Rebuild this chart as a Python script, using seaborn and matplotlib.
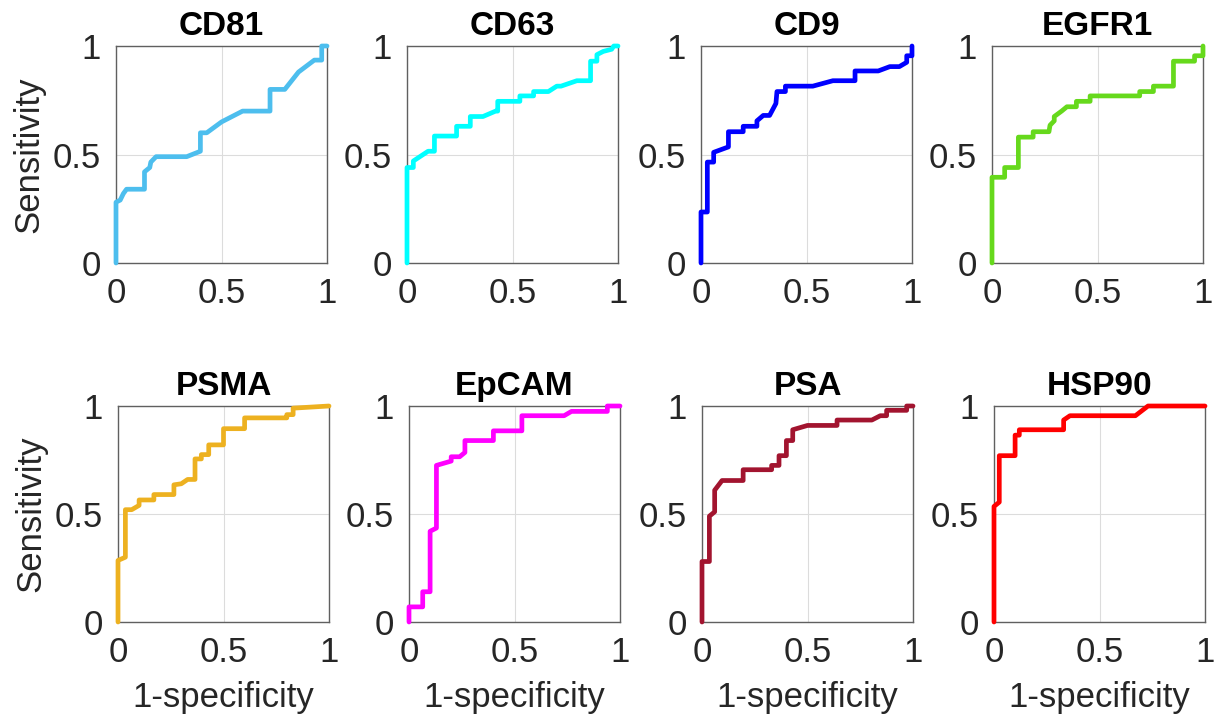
import numpy as np
import matplotlib
matplotlib.use("Agg")
import matplotlib.pyplot as plt
import seaborn as sns

# --- ROC curve vertices (1-specificity, sensitivity) ---
markers = ["CD81", "CD63", "CD9", "EGFR1", "PSMA", "EpCAM", "PSA", "HSP90"]
colors = ["#4DBEEE", "#00FFFF", "#0000FF", "#66D91C",
          "#EDB120", "#FF00FF", "#A2142F", "#FF0000"]

cd81_fpr = [0, 0, 0.02, 0.035, 0.05, 0.135, 0.135, 0.16, 0.165, 0.19, 0.335, 0.40, 0.40,
            0.43, 0.50, 0.60, 0.73, 0.73, 0.80, 0.865, 0.94, 0.975, 0.975, 1.0]
cd81_tpr = [0, 0.28, 0.29, 0.32, 0.34, 0.34, 0.42, 0.44, 0.465, 0.49, 0.49, 0.515, 0.60,
            0.60, 0.65, 0.70, 0.70, 0.80, 0.80, 0.88, 0.935, 0.935, 1.0, 1.0]

cd63_fpr = [0, 0, 0.03, 0.03, 0.10, 0.13, 0.13, 0.235, 0.235, 0.30, 0.30, 0.36, 0.42, 0.43,
            0.43, 0.535, 0.535, 0.60, 0.60, 0.67, 0.71, 0.73, 0.805, 0.87, 0.87, 0.90, 0.90,
            0.93, 0.97, 0.98, 1.0]
cd63_tpr = [0, 0.44, 0.44, 0.47, 0.515, 0.515, 0.585, 0.585, 0.63, 0.63, 0.675, 0.675, 0.70,
            0.70, 0.745, 0.745, 0.77, 0.77, 0.79, 0.79, 0.815, 0.815, 0.84, 0.84, 0.93, 0.93,
            0.96, 0.975, 0.985, 1.0, 1.0]

cd9_fpr = [0, 0, 0.03, 0.03, 0.06, 0.06, 0.13, 0.13, 0.20, 0.20, 0.265, 0.265, 0.295, 0.325,
           0.355, 0.36, 0.40, 0.40, 0.53, 0.625, 0.73, 0.73, 0.84, 0.895, 0.94, 0.975, 0.975,
           1.0, 1.0]
cd9_tpr = [0, 0.235, 0.235, 0.465, 0.465, 0.51, 0.535, 0.605, 0.605, 0.63, 0.63, 0.655, 0.68,
           0.68, 0.735, 0.79, 0.79, 0.815, 0.815, 0.84, 0.84, 0.885, 0.885, 0.905, 0.905,
           0.925, 0.955, 0.955, 1.0]

egfr1_fpr = [0, 0, 0.06, 0.06, 0.125, 0.125, 0.195, 0.195, 0.27, 0.275, 0.295, 0.295, 0.33,
             0.355, 0.40, 0.40, 0.465, 0.465, 0.70, 0.70, 0.765, 0.765, 0.86, 0.86, 0.96,
             0.96, 1.0, 1.0]
egfr1_tpr = [0, 0.395, 0.395, 0.44, 0.44, 0.58, 0.58, 0.605, 0.605, 0.635, 0.655, 0.675,
             0.70, 0.72, 0.72, 0.745, 0.745, 0.77, 0.77, 0.79, 0.79, 0.815, 0.815, 0.93,
             0.93, 0.955, 0.955, 1.0]

psma_fpr = [0, 0, 0.035, 0.035, 0.065, 0.10, 0.10, 0.17, 0.17, 0.265, 0.265, 0.30, 0.33,
            0.365, 0.365, 0.395, 0.395, 0.43, 0.43, 0.50, 0.50, 0.60, 0.60, 0.80, 0.80,
            0.83, 0.83, 1.0]
psma_tpr = [0, 0.285, 0.30, 0.52, 0.52, 0.54, 0.565, 0.565, 0.59, 0.59, 0.635, 0.64, 0.66,
            0.66, 0.755, 0.755, 0.775, 0.775, 0.82, 0.82, 0.895, 0.895, 0.945, 0.945, 0.96,
            0.96, 0.99, 1.0]

epcam_fpr = [0, 0, 0.065, 0.065, 0.10, 0.10, 0.13, 0.13, 0.20, 0.20, 0.24, 0.265, 0.265,
             0.40, 0.40, 0.535, 0.535, 0.735, 0.77, 0.94, 0.94, 1.0]
epcam_tpr = [0, 0.07, 0.07, 0.14, 0.14, 0.42, 0.435, 0.725, 0.745, 0.765, 0.765, 0.785,
             0.84, 0.84, 0.885, 0.885, 0.955, 0.955, 0.975, 0.975, 1.0, 1.0]

psa_fpr = [0, 0, 0.035, 0.035, 0.06, 0.06, 0.095, 0.195, 0.195, 0.33, 0.33, 0.365, 0.365,
           0.40, 0.40, 0.43, 0.43, 0.50, 0.64, 0.64, 0.805, 0.845, 0.875, 0.875, 0.97, 0.97,
           1.0]
psa_tpr = [0, 0.28, 0.28, 0.49, 0.51, 0.61, 0.655, 0.655, 0.705, 0.705, 0.725, 0.725, 0.77,
           0.77, 0.84, 0.84, 0.89, 0.91, 0.91, 0.935, 0.935, 0.955, 0.955, 0.98, 0.98, 1.0,
           1.0]

hsp90_fpr = [0, 0, 0.025, 0.025, 0.10, 0.10, 0.12, 0.12, 0.33, 0.33, 0.36, 0.67, 0.73, 1.0]
hsp90_tpr = [0, 0.535, 0.555, 0.77, 0.77, 0.865, 0.865, 0.89, 0.89, 0.935, 0.955, 0.955,
             1.0, 1.0]

curves = [(cd81_fpr, cd81_tpr), (cd63_fpr, cd63_tpr), (cd9_fpr, cd9_tpr),
          (egfr1_fpr, egfr1_tpr), (psma_fpr, psma_tpr), (epcam_fpr, epcam_tpr),
          (psa_fpr, psa_tpr), (hsp90_fpr, hsp90_tpr)]

ticks = [0, 0.5, 1]
tick_labels = ["0", "0.5", "1"]

# --- Style ---
sns.set_theme(style="white")
plt.rcParams["font.family"] = ["Liberation Sans", "DejaVu Sans"]
plt.rcParams["text.color"] = "#262626"
plt.rcParams["axes.labelcolor"] = "#262626"

W, H = 1221, 722
fig = plt.figure(figsize=(W / 100, H / 100), dpi=100)

# axes boxes in pixels
row_tops = [46, 406]
row_bottoms = [263, 622]
col_lefts = [[116, 407, 701, 992], [118, 409, 702, 994]]
ax_w = 211

for k, (name, color, (fpr, tpr)) in enumerate(zip(markers, colors, curves)):
    r, c = divmod(k, 4)
    left = col_lefts[r][c]
    ax = fig.add_axes([left / W, 1 - row_bottoms[r] / H, ax_w / W,
                       (row_bottoms[r] - row_tops[r]) / H])
    sns.lineplot(x=fpr, y=tpr, sort=False, estimator=None, color=color,
                 linewidth=3.4, ax=ax, clip_on=False, zorder=5)
    ax.set_xlim(0, 1)
    ax.set_ylim(0, 1)
    ax.set_xticks(ticks)
    ax.set_xticklabels(tick_labels)
    ax.set_yticks(ticks)
    ax.set_yticklabels(tick_labels)
    ax.grid(True, color="#dcdcdc", linewidth=0.8)
    ax.tick_params(direction="in", length=3, width=0.8, color="#404040",
                   labelsize=25, labelcolor="#262626", pad=10)
    ax.tick_params(axis="y", pad=11)
    for s in ax.spines.values():
        s.set_color("#606060")
        s.set_linewidth(1.0)
    ax.set_title(name, fontsize=24, fontweight="bold", color="black", pad=8)
    if c == 0:
        ax.set_ylabel("Sensitivity", fontsize=25, labelpad=5)
    if r == 1:
        ax.set_xlabel("1-specificity", fontsize=25, labelpad=9)

fig.savefig("out.png", dpi=100, facecolor="white")
